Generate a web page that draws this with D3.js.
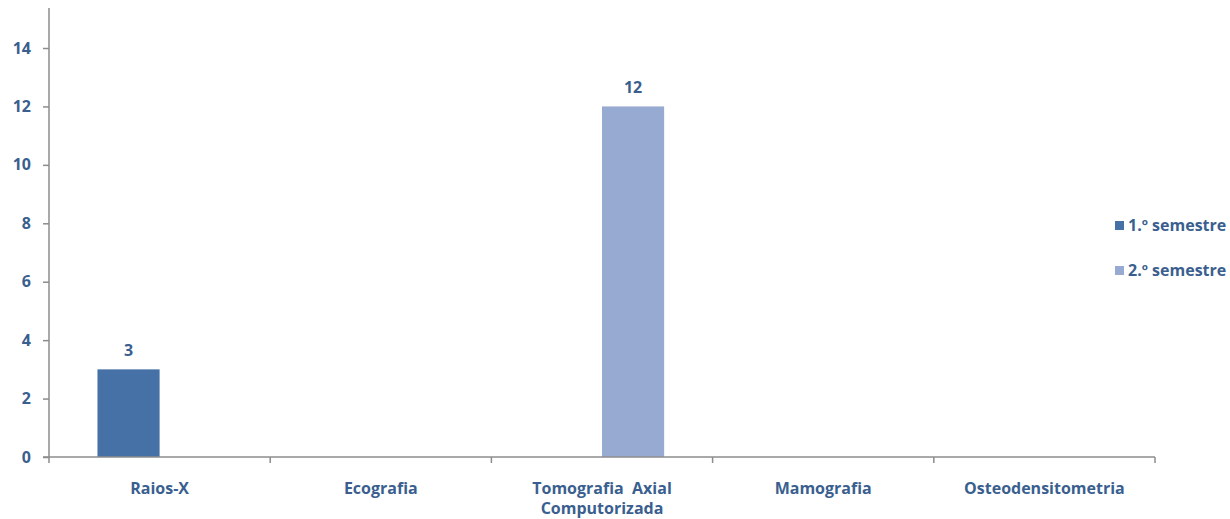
<!DOCTYPE html>
<html>
<head>
<meta charset="utf-8">
<script src="https://cdn.jsdelivr.net/npm/d3@7"></script>
<style>
  html, body { margin: 0; padding: 0; background: #fff; }
  svg text { font-family: "Open Sans", sans-serif; font-weight: bold; fill: #3A5F8F; }
</style>
</head>
<body>
<svg id="chart" width="1230" height="519"></svg>
<script>
// Exam counts per semester
const categories = [["Raios-X"], ["Ecografia"], ["Tomografia  Axial", "Computorizada"], ["Mamografia"], ["Osteodensitometria"]];
const seriesNames = ["1.º semestre", "2.º semestre"];
const semestre1 = [3, null, null, null, null];
const semestre2 = [null, null, 12, null, null];
const yTicks = [0, 2, 4, 6, 8, 10, 12, 14];
const colors = ["#4671A6", "#97AAD2"];

const svg = d3.select("#chart");
const margin = { left: 49, right: 75, top: 48, bottom: 62 };
const W = 1230, H = 519;
const x0 = margin.left, x1 = W - margin.right, yBottom = H - margin.bottom;
const fs = 16;

const keys = categories.map((c, i) => i);
const x = d3.scaleBand().domain(keys).range([x0, x1]).paddingInner(0).paddingOuter(0);
const xs = d3.scaleBand().domain([0, 1]).range([0, x.bandwidth()]).paddingInner(0).paddingOuter(0.78);
const y = d3.scaleLinear().domain([0, 14]).range([yBottom, margin.top]);

const series = [semestre1, semestre2];

// bars and value labels
series.forEach((vals, s) => {
  const pts = vals.map((v, i) => ({ v, i })).filter(d => d.v != null);
  svg.append("g").selectAll("rect").data(pts).join("rect")
    .attr("x", d => x(d.i) + xs(s))
    .attr("width", xs.bandwidth())
    .attr("y", d => y(d.v))
    .attr("height", d => y(0) - y(d.v))
    .attr("fill", colors[s]);
  svg.append("g").selectAll("text").data(pts).join("text")
    .attr("x", d => x(d.i) + xs(s) + xs.bandwidth() / 2)
    .attr("y", d => y(d.v) - 13)
    .attr("text-anchor", "middle")
    .attr("font-size", fs)
    .text(d => d.v);
});

// y axis
const yAxis = svg.append("g").attr("transform", `translate(${x0},0)`)
  .call(d3.axisLeft(y).tickValues(yTicks).tickSize(6).tickPadding(12));
yAxis.select(".domain").attr("stroke", "#8C8C8C").attr("stroke-width", 1.5).attr("d", `M-0,${margin.top - 40}V${yBottom}`);
yAxis.selectAll(".tick line").attr("stroke", "#8C8C8C").attr("stroke-width", 1.5);
yAxis.selectAll(".tick text").attr("font-size", fs).attr("fill", "#3A5F8F")
  .style("font-family", "'Open Sans', sans-serif");

// x axis
const xAxisG = svg.append("g").attr("transform", `translate(0,${yBottom})`);
xAxisG.append("line").attr("x1", x0 - 6).attr("x2", x1).attr("y1", 0).attr("y2", 0)
  .attr("stroke", "#8C8C8C").attr("stroke-width", 1.5);
const bounds = keys.map(k => x(k)).concat([x1]);
xAxisG.selectAll("line.tk").data(bounds).join("line").attr("class", "tk")
  .attr("x1", d => d).attr("x2", d => d).attr("y1", 0).attr("y2", 6)
  .attr("stroke", "#8C8C8C").attr("stroke-width", 1.5);
const lbl = xAxisG.selectAll("text.cat").data(keys).join("text").attr("class", "cat")
  .attr("text-anchor", "middle").attr("font-size", fs)
  .style("white-space", "pre")
  .attr("x", d => x(d) + x.bandwidth() / 2);
lbl.selectAll("tspan").data(d => categories[d].map(t => ({ t, c: d }))).join("tspan")
  .attr("x", d => x(d.c) + x.bandwidth() / 2)
  .attr("y", (d, j) => 37 + j * 20)
  .text(d => d.t);

// legend
const leg = svg.append("g");
seriesNames.forEach((name, s) => {
  const ly = 225 + s * 45;
  leg.append("rect").attr("x", 1115).attr("y", ly - 4).attr("width", 9).attr("height", 9).attr("fill", colors[s]);
  leg.append("text").attr("x", 1128).attr("y", ly + 6).attr("font-size", fs).text(name);
});
</script>
</body>
</html>
